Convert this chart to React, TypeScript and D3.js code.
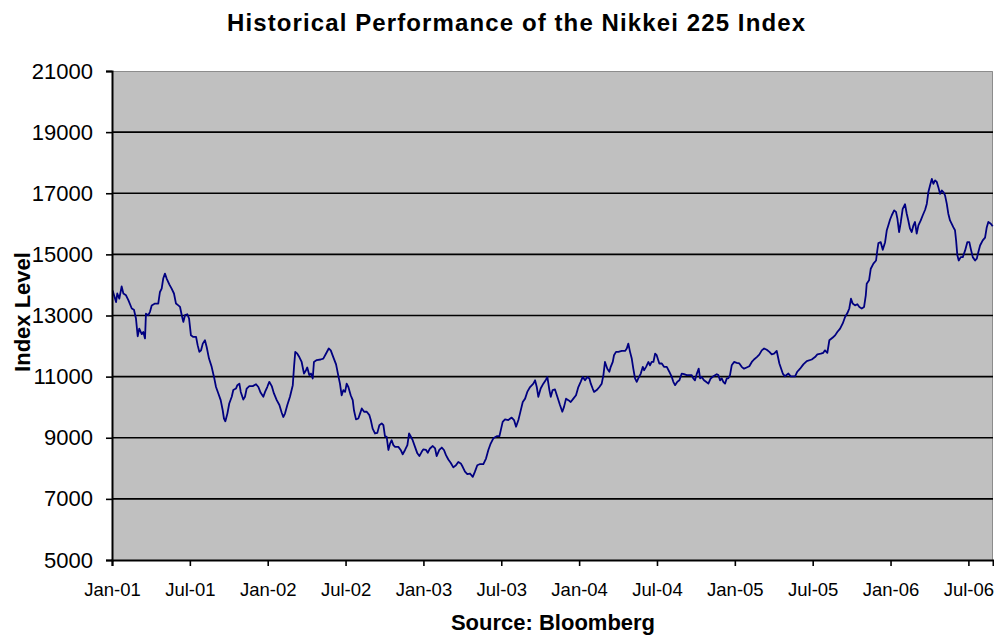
import { useEffect, useRef } from "react";
import * as d3 from "d3";

// Nikkei 225 index: [decimal year, index level]
const nikkei2001: [number, number][] = [
  [2001.004, 13820], [2001.026, 13440], [2001.034, 13720], [2001.047, 13550], [2001.062, 13950],
  [2001.073, 13720], [2001.09, 13660], [2001.105, 13500], [2001.127, 13230], [2001.141, 13190],
  [2001.154, 12900], [2001.165, 12320], [2001.175, 12570], [2001.191, 12390], [2001.201, 12460],
  [2001.212, 12250], [2001.218, 13060], [2001.233, 13010], [2001.244, 13120], [2001.255, 13330],
  [2001.276, 13390], [2001.297, 13390], [2001.308, 13770], [2001.319, 13880], [2001.329, 14210],
  [2001.34, 14370], [2001.351, 14210], [2001.368, 14020], [2001.383, 13880], [2001.398, 13720],
  [2001.411, 13390], [2001.426, 13330], [2001.437, 13280], [2001.448, 13010], [2001.458, 12790],
  [2001.469, 13010], [2001.484, 13040], [2001.495, 12900], [2001.507, 12350], [2001.522, 12300],
  [2001.54, 12300], [2001.55, 12030], [2001.561, 11810], [2001.572, 11860], [2001.583, 12080],
  [2001.597, 12190], [2001.608, 11970], [2001.623, 11590], [2001.64, 11320], [2001.655, 10990],
  [2001.668, 10660], [2001.683, 10450], [2001.698, 10230], [2001.711, 9900], [2001.719, 9630],
  [2001.728, 9540], [2001.741, 9790], [2001.753, 10120], [2001.769, 10340], [2001.779, 10560],
  [2001.796, 10610], [2001.805, 10720], [2001.818, 10770], [2001.827, 10500], [2001.843, 10250],
  [2001.854, 10340], [2001.865, 10610], [2001.882, 10690], [2001.904, 10690], [2001.925, 10750],
  [2001.94, 10660], [2001.955, 10470], [2001.972, 10340], [2001.983, 10500], [2001.997, 10660],
];

const nikkei2002: [number, number][] = [
  [2002.01, 10830], [2002.026, 10690], [2002.04, 10450], [2002.058, 10230], [2002.075, 10070],
  [2002.09, 9820], [2002.1, 9680], [2002.111, 9790], [2002.126, 10070], [2002.143, 10340],
  [2002.161, 10720], [2002.169, 11320], [2002.177, 11810], [2002.19, 11750], [2002.203, 11640],
  [2002.218, 11480], [2002.233, 11100], [2002.246, 11210], [2002.254, 11300], [2002.267, 11050],
  [2002.278, 11100], [2002.289, 10940], [2002.297, 11480], [2002.315, 11540], [2002.34, 11560],
  [2002.357, 11590], [2002.374, 11750], [2002.392, 11920], [2002.405, 11860], [2002.421, 11640],
  [2002.439, 11400], [2002.455, 10990], [2002.464, 10770], [2002.475, 10390], [2002.486, 10560],
  [2002.497, 10500], [2002.507, 10770], [2002.518, 10660], [2002.533, 10390], [2002.546, 10230],
  [2002.554, 9900], [2002.567, 9600], [2002.582, 9630], [2002.593, 9790], [2002.604, 9960],
  [2002.619, 9850], [2002.636, 9850], [2002.653, 9740], [2002.662, 9580], [2002.674, 9300],
  [2002.689, 9140], [2002.704, 9160], [2002.717, 9410], [2002.732, 9470], [2002.743, 9410],
  [2002.753, 9050], [2002.764, 9030], [2002.775, 8600], [2002.786, 8810], [2002.796, 8920],
  [2002.807, 8760], [2002.818, 8700], [2002.839, 8700], [2002.854, 8600], [2002.867, 8460],
  [2002.882, 8600], [2002.897, 8760], [2002.908, 9140], [2002.918, 9050], [2002.931, 8920],
  [2002.946, 8700], [2002.961, 8490], [2002.974, 8400], [2002.989, 8540], [2002.999, 8620],
];

const nikkei2003: [number, number][] = [
  [2003.017, 8600], [2003.028, 8510], [2003.042, 8650], [2003.06, 8730], [2003.075, 8650],
  [2003.085, 8400], [2003.102, 8600], [2003.118, 8680], [2003.132, 8600], [2003.145, 8430],
  [2003.16, 8290], [2003.175, 8180], [2003.192, 8030], [2003.209, 8100], [2003.224, 8210],
  [2003.24, 8160], [2003.252, 8050], [2003.267, 7890], [2003.282, 7810], [2003.299, 7830],
  [2003.317, 7720], [2003.331, 7890], [2003.346, 8100], [2003.364, 8140], [2003.385, 8140],
  [2003.402, 8320], [2003.417, 8600], [2003.432, 8810], [2003.449, 8980], [2003.471, 9050],
  [2003.488, 9050], [2003.497, 9250], [2003.509, 9520], [2003.524, 9600], [2003.545, 9580],
  [2003.567, 9660], [2003.582, 9580], [2003.595, 9360], [2003.61, 9580], [2003.62, 9790],
  [2003.638, 10170], [2003.653, 10280], [2003.667, 10500], [2003.685, 10660], [2003.706, 10770],
  [2003.717, 10880], [2003.728, 10660], [2003.738, 10340], [2003.753, 10610], [2003.77, 10770],
  [2003.787, 10900], [2003.796, 10990], [2003.809, 10560], [2003.818, 10340], [2003.83, 10560],
  [2003.845, 10580], [2003.86, 10340], [2003.877, 10070], [2003.892, 9850], [2003.903, 10010],
  [2003.916, 10280], [2003.931, 10230], [2003.946, 10170], [2003.963, 10280], [2003.98, 10390],
  [2003.995, 10660],
];

const nikkei2004: [number, number][] = [
  [2004.01, 10830], [2004.023, 10990], [2004.038, 10880], [2004.053, 10990], [2004.066, 10940],
  [2004.075, 10770], [2004.087, 10610], [2004.096, 10500], [2004.113, 10560], [2004.13, 10660],
  [2004.145, 10770], [2004.156, 11050], [2004.166, 11480], [2004.181, 11260], [2004.194, 11160],
  [2004.203, 11320], [2004.216, 11480], [2004.224, 11700], [2004.237, 11810], [2004.252, 11810],
  [2004.274, 11840], [2004.295, 11840], [2004.306, 11920], [2004.316, 12080], [2004.327, 11810],
  [2004.338, 11590], [2004.348, 11260], [2004.359, 10940], [2004.37, 10830], [2004.38, 10940],
  [2004.396, 11100], [2004.409, 11320], [2004.417, 11210], [2004.43, 11320], [2004.445, 11480],
  [2004.455, 11370], [2004.466, 11480], [2004.477, 11480], [2004.488, 11750], [2004.498, 11700],
  [2004.515, 11430], [2004.531, 11430], [2004.545, 11320], [2004.563, 11320], [2004.579, 11160],
  [2004.595, 10990], [2004.605, 10830], [2004.616, 10720], [2004.631, 10830], [2004.644, 10880],
  [2004.659, 11100], [2004.674, 11080], [2004.691, 11050], [2004.708, 11050], [2004.723, 11050],
  [2004.733, 10940], [2004.744, 10880], [2004.755, 11080], [2004.768, 11260], [2004.777, 10940],
  [2004.787, 10990], [2004.802, 10880], [2004.815, 10830], [2004.83, 10770], [2004.845, 10940],
  [2004.862, 11010], [2004.884, 11080], [2004.894, 11050], [2004.905, 10880], [2004.916, 10940],
  [2004.926, 10830], [2004.937, 10770], [2004.948, 10940], [2004.958, 10940], [2004.969, 11050],
  [2004.98, 11370], [2004.995, 11480],
];

const nikkei2005: [number, number][] = [
  [2005.012, 11450], [2005.029, 11430], [2005.044, 11320], [2005.059, 11260], [2005.076, 11300],
  [2005.093, 11340], [2005.109, 11480], [2005.123, 11560], [2005.141, 11640], [2005.157, 11720],
  [2005.173, 11860], [2005.188, 11920], [2005.205, 11880], [2005.222, 11810], [2005.237, 11730],
  [2005.252, 11750], [2005.269, 11840], [2005.286, 11430], [2005.308, 11100], [2005.322, 11010],
  [2005.344, 11100], [2005.359, 11010], [2005.387, 11010], [2005.401, 11160], [2005.419, 11260],
  [2005.44, 11400], [2005.462, 11510], [2005.494, 11560], [2005.515, 11640], [2005.53, 11730],
  [2005.552, 11750], [2005.568, 11780], [2005.579, 11860], [2005.594, 11780], [2005.607, 12190],
  [2005.629, 12280], [2005.644, 12350], [2005.658, 12460], [2005.676, 12570], [2005.693, 12740],
  [2005.708, 12950], [2005.723, 13080], [2005.735, 13230], [2005.746, 13550], [2005.757, 13390],
  [2005.772, 13330], [2005.787, 13370], [2005.8, 13280], [2005.815, 13230], [2005.83, 13280],
  [2005.841, 13660], [2005.847, 14040], [2005.862, 14150], [2005.873, 14530], [2005.89, 14700],
  [2005.907, 14800], [2005.915, 15130], [2005.922, 15370], [2005.937, 15400], [2005.95, 15150],
  [2005.965, 15400], [2005.976, 15790], [2005.986, 15950], [2005.997, 16140],
];

const nikkei2006: [number, number][] = [
  [2006.008, 16280], [2006.023, 16440], [2006.035, 16390], [2006.044, 16170], [2006.055, 15730],
  [2006.066, 16060], [2006.078, 16490], [2006.093, 16640], [2006.104, 16330], [2006.114, 16110],
  [2006.125, 15840], [2006.136, 15730], [2006.147, 15950], [2006.157, 16060], [2006.168, 15680],
  [2006.179, 15950], [2006.194, 16110], [2006.207, 16280], [2006.222, 16460], [2006.233, 16660],
  [2006.243, 17040], [2006.254, 17260], [2006.265, 17470], [2006.275, 17310], [2006.286, 17420],
  [2006.297, 17370], [2006.307, 17200], [2006.318, 16980], [2006.329, 17090], [2006.339, 17040],
  [2006.35, 16930], [2006.361, 16660], [2006.371, 16330], [2006.382, 16110], [2006.393, 16000],
  [2006.403, 15890], [2006.414, 15790], [2006.421, 15460], [2006.429, 14970], [2006.438, 14800],
  [2006.451, 14910], [2006.464, 14910], [2006.479, 15130], [2006.493, 15400], [2006.506, 15400],
  [2006.515, 15190], [2006.528, 14910], [2006.543, 14800], [2006.554, 14860], [2006.564, 15080],
  [2006.575, 15290], [2006.592, 15460], [2006.607, 15550], [2006.618, 15890], [2006.628, 16060],
  [2006.644, 16000], [2006.656, 15920],
];

const yTicks = [5000, 7000, 9000, 11000, 13000, 15000, 17000, 19000, 21000];
const xTickYears = [2001, 2001.5, 2002, 2002.5, 2003, 2003.5, 2004, 2004.5, 2005, 2005.5, 2006, 2006.5];
const xTickLabels = ["Jan-01", "Jul-01", "Jan-02", "Jul-02", "Jan-03", "Jul-03", "Jan-04", "Jul-04", "Jan-05", "Jul-05", "Jan-06", "Jul-06"];
const xDomainEnd = 2006.658;

const W = 994;
const H = 637;

export default function App() {
  const svgRef = useRef<SVGSVGElement | null>(null);

  useEffect(() => {
    if (!svgRef.current) return;
    const svg = d3.select(svgRef.current);
    svg.selectAll("*").remove();

    const margin = { top: 71, right: 1, bottom: 77, left: 112 };
    const font = "'Liberation Sans', Arial, sans-serif";
    const data = [...nikkei2001, ...nikkei2002, ...nikkei2003, ...nikkei2004, ...nikkei2005, ...nikkei2006];

    const x = d3.scaleLinear().domain([2001, xDomainEnd]).range([margin.left, W - margin.right]);
    const y = d3.scaleLinear().domain([5000, 21000]).range([H - margin.bottom, margin.top]);

    // plot area
    svg.append("rect")
      .attr("x", margin.left)
      .attr("y", margin.top)
      .attr("width", W - margin.right - margin.left)
      .attr("height", H - margin.bottom - margin.top)
      .attr("fill", "#c0c0c0");

    // outer border (top & right) in grey
    svg.append("path")
      .attr("d", `M${margin.left},${margin.top + 0.5}H${W - margin.right - 0.5}V${H - margin.bottom}`)
      .attr("fill", "none")
      .attr("stroke", "#8c8c8c")
      .attr("stroke-width", 1);

    // gridlines
    svg.append("g")
      .selectAll("line")
      .data(yTicks.slice(1, -1))
      .join("line")
      .attr("x1", margin.left)
      .attr("x2", W - margin.right)
      .attr("y1", d => y(d))
      .attr("y2", d => y(d))
      .attr("stroke", "#000")
      .attr("stroke-width", 1.6);

    // line
    const line = d3.line<[number, number]>()
      .x(d => x(d[0]))
      .y(d => y(d[1]));

    svg.append("path")
      .datum(data)
      .attr("fill", "none")
      .attr("stroke", "#000080")
      .attr("stroke-width", 1.8)
      .attr("stroke-linejoin", "round")
      .attr("d", line);

    // y axis
    const yAxis = svg.append("g")
      .attr("transform", `translate(${margin.left},0)`)
      .call(d3.axisLeft(y).tickValues(yTicks).tickSize(6).tickPadding(13).tickFormat(d3.format("d")));
    yAxis.select(".domain").attr("stroke", "#000").attr("stroke-width", 2);
    yAxis.selectAll(".tick line").attr("stroke", "#000").attr("stroke-width", 1.6);
    yAxis.selectAll("text")
      .attr("font-family", font)
      .attr("font-size", 22)
      .attr("fill", "#000");

    // x axis
    const xAxis = svg.append("g")
      .attr("transform", `translate(0,${H - margin.bottom})`)
      .call(d3.axisBottom(x).tickValues(xTickYears).tickSize(6).tickPadding(17)
        .tickFormat((_d, i) => xTickLabels[i]));
    xAxis.select(".domain").attr("stroke", "#000").attr("stroke-width", 2);
    xAxis.selectAll(".tick line").attr("stroke", "#000").attr("stroke-width", 1.6);
    xAxis.selectAll("text")
      .attr("font-family", font)
      .attr("font-size", 18.5)
      .attr("fill", "#000");

    // title
    svg.append("text")
      .attr("x", 516)
      .attr("y", 31)
      .attr("text-anchor", "middle")
      .attr("font-family", font)
      .attr("font-weight", "bold")
      .attr("font-size", 24)
      .attr("textLength", 578)
      .attr("lengthAdjust", "spacing")
      .text("Historical Performance of the Nikkei 225 Index");

    // axis titles
    svg.append("text")
      .attr("transform", `translate(30,312) rotate(-90)`)
      .attr("text-anchor", "middle")
      .attr("font-family", font)
      .attr("font-weight", "bold")
      .attr("font-size", 22)
      .text("Index Level");

    svg.append("text")
      .attr("x", 553)
      .attr("y", 630)
      .attr("text-anchor", "middle")
      .attr("font-family", font)
      .attr("font-weight", "bold")
      .attr("font-size", 22)
      .text("Source: Bloomberg");
  }, []);

  return (
    <svg
      ref={svgRef}
      width={W}
      height={H}
      style={{ position: "absolute", left: 0, top: 0, background: "#fff" }}
    />
  );
}
